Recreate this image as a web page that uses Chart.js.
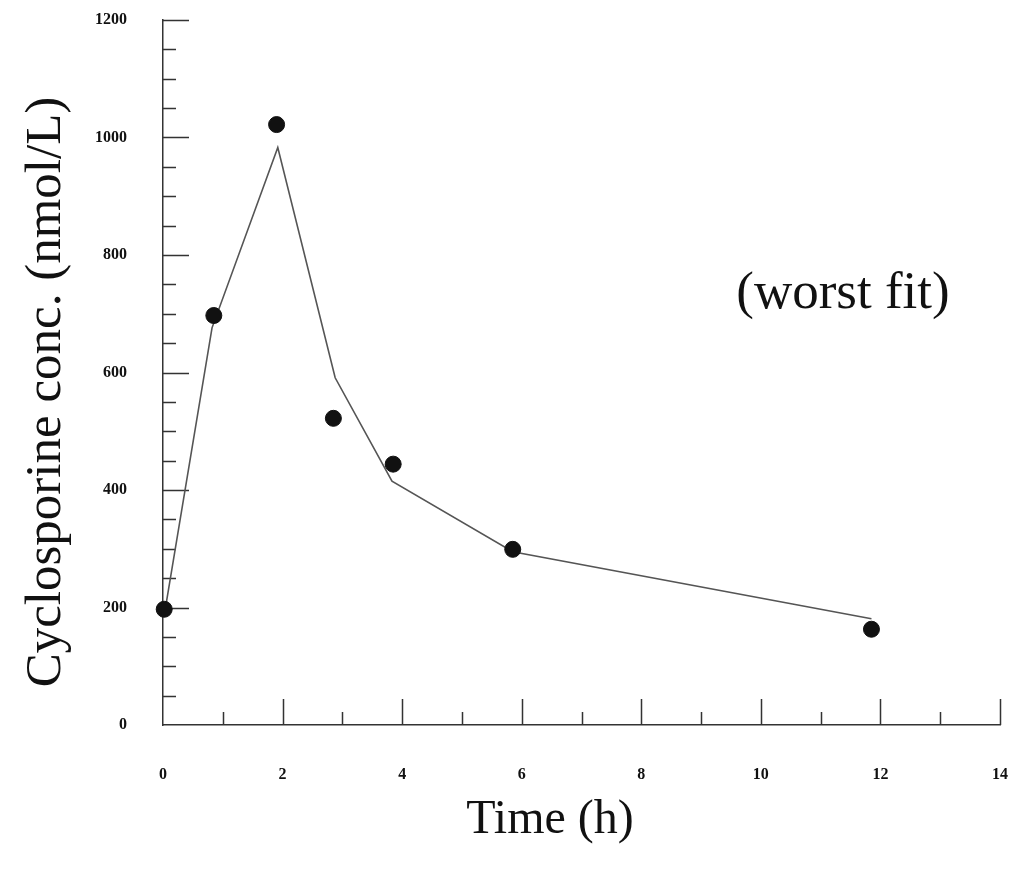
<!DOCTYPE html>
<html>
<head>
<meta charset="utf-8">
<script src="https://cdn.jsdelivr.net/npm/chart.js@4/dist/chart.umd.min.js"></script>
<style>
html,body{margin:0;padding:0;background:#fff;}
#wrap{width:1010px;height:871px;}
</style>
</head>
<body>
<div id="wrap"><canvas id="c" width="1010" height="871"></canvas></div>
<script>
const obsTime = [0.02, 0.85, 1.9, 2.85, 3.85, 5.85, 11.85];
const obsConc = [197, 697, 1022, 522, 444, 299, 163];
const fitTime = [0.05, 0.82, 1.92, 2.88, 3.83, 5.85, 11.85];
const fitConc = [205, 676, 983, 591, 415, 295, 181];
const xTicks = [0, 2, 4, 6, 8, 10, 12, 14];
const yTicks = [0, 200, 400, 600, 800, 1000, 1200];
const yTitle = 'Cyclosporine conc. (nmol/L)';
const xTitle = 'Time (h)';
const note = '(worst fit)';

const serif = '"Liberation Serif", "DejaVu Serif", serif';

const decor = {
  id: 'decor',
  beforeDatasetsDraw(chart) {
    const ctx = chart.ctx;
    const xs = chart.scales.x, ys = chart.scales.y;
    const x0 = xs.getPixelForValue(0), y0 = ys.getPixelForValue(0);
    ctx.save();
    ctx.strokeStyle = '#333';
    ctx.lineWidth = 1.5;
    ctx.beginPath();
    for (let v = 50; v <= 1200; v += 50) {
      const y = Math.round(ys.getPixelForValue(v)) + 0.5;
      const len = (v % 200 === 0) ? 26 : 13;
      ctx.moveTo(x0, y); ctx.lineTo(x0 + len, y);
    }
    for (let t = 1; t <= 14; t += 1) {
      const x = Math.round(xs.getPixelForValue(t)) + 0.5;
      const len = (t % 2 === 0) ? 26 : 13;
      ctx.moveTo(x, y0); ctx.lineTo(x, y0 - len);
    }
    ctx.stroke();
    ctx.restore();
  },
  afterDraw(chart) {
    const ctx = chart.ctx;
    ctx.save();
    ctx.fillStyle = '#111';
    ctx.textAlign = 'center';
    ctx.textBaseline = 'middle';
    ctx.font = '53px ' + serif;
    ctx.fillText(note, 843, 294);
    ctx.font = '48px ' + serif;
    ctx.fillText(xTitle, 550, 820);
    ctx.font = '51px ' + serif;
    ctx.translate(47, 392);
    ctx.rotate(-Math.PI / 2);
    ctx.fillText(yTitle, 0, 0);
    ctx.restore();
  }
};

new Chart(document.getElementById('c'), {
  type: 'scatter',
  data: {
    datasets: [
      {
        label: 'fit',
        data: fitTime.map((t, i) => ({x: t, y: fitConc[i]})),
        showLine: true,
        borderColor: '#555',
        borderWidth: 1.6,
        pointRadius: 0,
        fill: false,
        clip: false,
        order: 2
      },
      {
        label: 'observed',
        data: obsTime.map((t, i) => ({x: t, y: obsConc[i]})),
        showLine: false,
        backgroundColor: '#111',
        borderColor: '#111',
        pointRadius: 8,
        clip: false,
        order: 1
      }
    ]
  },
  options: {
    responsive: false,
    animation: false,
    layout: {padding: {top: 20, right: 10, left: 0, bottom: 0}},
    plugins: {legend: {display: false}, tooltip: {enabled: false}},
    scales: {
      x: {
        type: 'linear', min: 0, max: 14,
        afterFit(s) { s.height = 146; s.paddingLeft = 0; s.paddingRight = 0; },
        afterBuildTicks(s) { s.ticks = xTicks.map(v => ({value: v})); },
        grid: {display: false, drawTicks: false},
        border: {display: true, color: '#333', width: 1.5},
        ticks: {padding: 40, color: '#111', font: {family: serif, size: 16, weight: 'bold'}, maxRotation: 0,
                callback: v => String(v)}
      },
      y: {
        type: 'linear', min: 0, max: 1200,
        afterFit(s) { s.width = 163; s.paddingTop = 0; s.paddingBottom = 0; },
        afterBuildTicks(s) { s.ticks = yTicks.map(v => ({value: v})); },
        grid: {display: false, drawTicks: false},
        border: {display: true, color: '#333', width: 1.5},
        ticks: {padding: 36, color: '#111', font: {family: serif, size: 16, weight: 'bold'},
                callback: v => String(v)}
      }
    }
  },
  plugins: [decor]
});
</script>
</body>
</html>
